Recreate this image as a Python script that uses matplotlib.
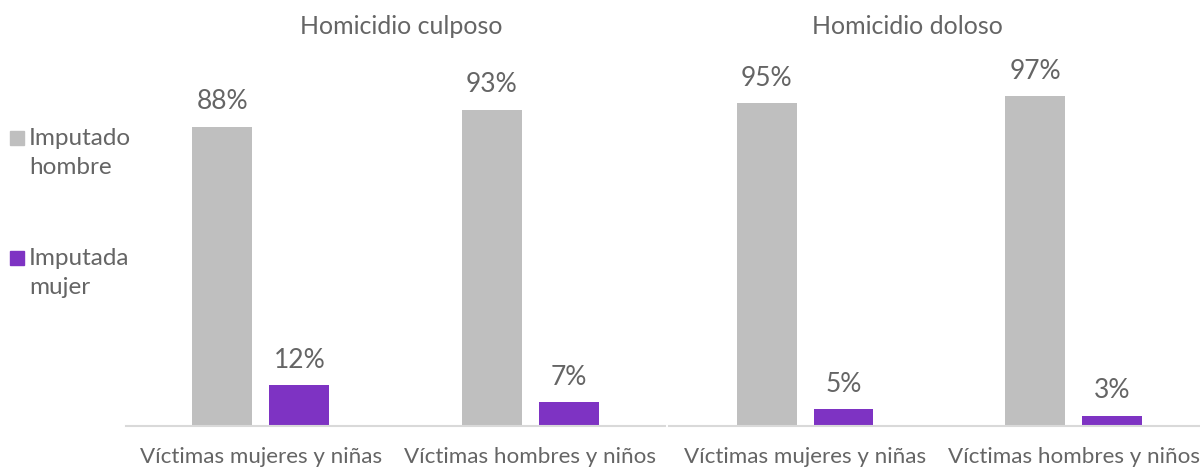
import matplotlib.pyplot as plt
from matplotlib.patches import Rectangle
import numpy as np

plt.rcParams['font.family'] = ['Lato', 'DejaVu Sans']

categorias = ['Víctimas mujeres y niñas', 'Víctimas hombres y niños']
paneles = ['Homicidio culposo', 'Homicidio doloso']
hombre = [[88, 93], [95, 97]]
mujer = [[12, 7], [5, 3]]
series = ['Imputado\nhombre', 'Imputada\nmujer']
colores = ['#BFBFBF', '#7E33C3']
txt = '#656565'

W, H = 1200, 468
fig = plt.figure(figsize=(12, 4.68), dpi=100)

# pixel layout of the two plot areas (left, right) in px
areas = [(126, 665, (-0.5, 1.5)), (669, 1200, (-0.507, 1.471))]
y_base, y_top = 426, 86
titulo_x = [401, 907]

x = np.arange(len(categorias))
bw = 0.223
off = 0.143

for i, (x0, x1, xl) in enumerate(areas):
    ax = fig.add_axes([x0 / W, (H - y_base) / H, (x1 - x0) / W, (y_base - y_top) / H])
    b1 = ax.bar(x - off, hombre[i], bw, color=colores[0])
    b2 = ax.bar(x + off, mujer[i], bw, color=colores[1])
    for bars in (b1, b2):
        ax.bar_label(bars, labels=[f'{v}%' for v in bars.datavalues], padding=9,
                     fontsize=19, color=txt)
    ax.set_xlim(*xl)
    ax.set_ylim(0, 100)
    ax.set_yticks([])
    ax.set_xticks(x)
    ax.set_xticklabels(categorias, fontsize=16.1, color=txt)
    ax.tick_params(axis='x', length=0, pad=15)
    for s in ['top', 'right', 'left']:
        ax.spines[s].set_visible(False)
    ax.spines['bottom'].set_color('#D9D9D9')
    ax.spines['bottom'].set_linewidth(1.5)
    ax.patch.set_alpha(0)
    fig.text(titulo_x[i] / W, 1 - 27 / H, paneles[i], ha='center', va='center',
             fontsize=18, color=txt)

# legend on the left
leg_y = [138, 258]
for lab, col, yy in zip(series, colores, leg_y):
    fig.patches.append(Rectangle((10 / W, 1 - (yy + 7) / H), 14 / W, 14 / H,
                                 color=col, transform=fig.transFigure, figure=fig))
    fig.text(29 / W, 1 - (yy - 10) / H, lab, ha='left', va='top', fontsize=17.5,
             color=txt, linespacing=1.45)

fig.savefig('out.png', dpi=100)
